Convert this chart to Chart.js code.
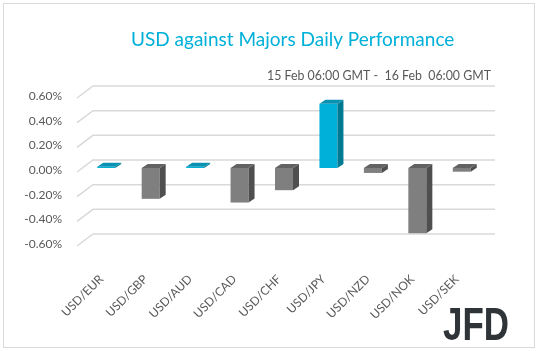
<!DOCTYPE html>
<html><head><meta charset="utf-8">
<script src="https://cdn.jsdelivr.net/npm/chart.js@4.4.1/dist/chart.umd.min.js"></script>
<style>html,body{margin:0;padding:0;background:#fff}#wrap{width:538px;height:351px;position:relative}canvas{display:block}</style>
</head><body><div id="wrap"><canvas id="c" width="538" height="351"></canvas></div>
<script>
const categories = ['USD/EUR','USD/GBP','USD/AUD','USD/CAD','USD/CHF','USD/JPY','USD/NZD','USD/NOK','USD/SEK'];
const values = [0.01, -0.25, 0.01, -0.28, -0.18, 0.52, -0.04, -0.53, -0.03];
const yTicks = [0.6, 0.4, 0.2, 0, -0.2, -0.4, -0.6];
const titleText = 'USD against Majors Daily Performance';
const subtitleText = '15 Feb 06:00 GMT -  16 Feb  06:00 GMT';
const logoText = 'JFD';

const POS = {front:'#00B0D8', side:'#007A92', top:'#0A92B3'};
const NEG = {front:'#7F7F7F', side:'#4F4F4F', top:'#626262'};
const FONT = 'Lato, "Liberation Sans", sans-serif';

const backGrid = {
  id:'backGrid',
  beforeDatasetsDraw(chart){
    const {ctx, chartArea:a, scales:{y}} = chart;
    ctx.save();
    ctx.strokeStyle = '#D9D9D9';
    ctx.lineWidth = 1.5;
    yTicks.forEach(v => {
      const py = y.getPixelForValue(v);
      ctx.beginPath();
      ctx.moveTo(a.left - 7, py + 4);
      ctx.lineTo(a.left + 9, py - 8);
      ctx.lineTo(a.right + 11, py - 8);
      ctx.stroke();
    });
    ctx.restore();
  }
};

const bars3d = {
  id:'bars3d',
  afterDatasetsDraw(chart){
    const {ctx} = chart;
    const meta = chart.getDatasetMeta(0);
    const dx = 6, dy = 4;
    ctx.save();
    meta.data.forEach((bar, i) => {
      const p = bar.getProps(['x','y','base','width'], true);
      const c = values[i] >= 0 ? POS : NEG;
      const l = p.x - p.width/2, r = p.x + p.width/2;
      const t = Math.min(p.y, p.base), b = Math.max(p.y, p.base);
      ctx.fillStyle = c.side;
      ctx.beginPath();
      ctx.moveTo(r, t); ctx.lineTo(r+dx, t-dy); ctx.lineTo(r+dx, b-dy); ctx.lineTo(r, b); ctx.closePath();
      ctx.fill();
      ctx.fillStyle = c.top;
      ctx.beginPath();
      ctx.moveTo(l, t); ctx.lineTo(l+dx, t-dy); ctx.lineTo(r+dx, t-dy); ctx.lineTo(r, t); ctx.closePath();
      ctx.fill();
    });
    ctx.restore();
  }
};

const decor = {
  id:'decor',
  afterDraw(chart){
    const {ctx} = chart;
    ctx.save();
    ctx.strokeStyle = '#D9D9D9';
    ctx.lineWidth = 1;
    ctx.strokeRect(3.5, 3.5, 531, 344);
    ctx.fillStyle = '#00B0D8';
    ctx.font = '19px ' + FONT;
    ctx.textAlign = 'left';
    ctx.textBaseline = 'alphabetic';
    ctx.fillText(titleText, 131, 46, 326);
    ctx.fillStyle = '#595959';
    ctx.font = '12.5px ' + FONT;
    ctx.textAlign = 'right';
    ctx.fillText(subtitleText, 491, 80, 224);
    ctx.fillStyle = '#2F3439';
    ctx.font = 'bold 47px "Liberation Sans", sans-serif';
    ctx.textAlign = 'left';
    ctx.fillText(logoText, 443, 340, 66);
    ctx.restore();
  }
};

new Chart(document.getElementById('c'), {
  type:'bar',
  data:{
    labels:categories,
    datasets:[{
      data:values,
      backgroundColor: values.map(v => v >= 0 ? POS.front : NEG.front),
      barPercentage:0.405,
      categoryPercentage:1
    }]
  },
  options:{
    responsive:false,
    animation:false,
    devicePixelRatio:1,
    layout:{padding:{top:94, right:54, left:0, bottom:0}},
    plugins:{legend:{display:false}, tooltip:{enabled:false}},
    scales:{
      x:{
        grid:{display:false},
        border:{display:false},
        ticks:{color:'#595959', font:{family:FONT, size:12}, minRotation:45, maxRotation:45, padding:22, labelOffset:-5, autoSkip:false},
        afterFit(s){ s.height = 109; }
      },
      y:{
        min:-0.6, max:0.6,
        grid:{display:false},
        border:{display:false},
        ticks:{stepSize:0.2, color:'#595959', font:{family:FONT, size:12}, padding:14, labelOffset:2,
          callback:v => (Math.round(v*100)/100).toFixed(2) + '%'},
        afterFit(s){ s.width = 84; }
      }
    }
  },
  plugins:[backGrid, bars3d, decor]
});
</script></body></html>
